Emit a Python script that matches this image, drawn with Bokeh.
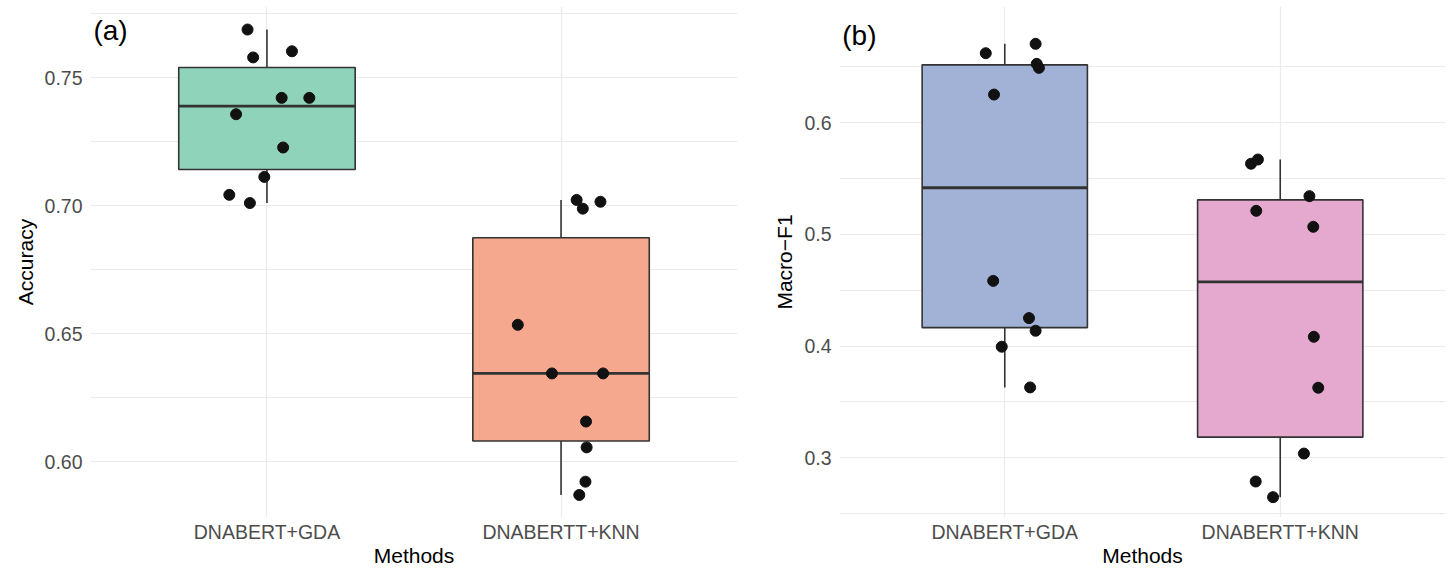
import numpy as np
from bokeh.plotting import figure
from bokeh.layouts import row
from bokeh.models import Range1d, FixedTicker
from bokeh.core.properties import value
from bokeh.embed import file_html
from bokeh.resources import INLINE

# ---------------- data ----------------
methods = ["DNABERT+GDA", "DNABERTT+KNN"]

acc_gda = [0.7689, 0.7580, 0.7604, 0.7422, 0.7422, 0.7358, 0.7228, 0.7113, 0.7043, 0.7011]
acc_gda_jitter = [-0.066, -0.047, 0.085, 0.050, 0.144, -0.105, 0.055, -0.009, -0.128, -0.058]
acc_knn = [0.7023, 0.6989, 0.7016, 0.6535, 0.6345, 0.6345, 0.6157, 0.6056, 0.5922, 0.5870]
acc_knn_jitter = [0.053, 0.074, 0.134, -0.147, -0.031, 0.143, 0.085, 0.087, 0.083, 0.062]

f1_gda = [0.6620, 0.6704, 0.6525, 0.6489, 0.6250, 0.4583, 0.4250, 0.4137, 0.3994, 0.3630]
f1_gda_jitter = [-0.069, 0.112, 0.116, 0.124, -0.039, -0.042, 0.088, 0.112, -0.011, 0.092]
f1_knn = [0.5631, 0.5669, 0.5341, 0.5210, 0.5067, 0.4083, 0.3627, 0.3038, 0.2788, 0.2648]
f1_knn_jitter = [-0.106, -0.081, 0.106, -0.087, 0.120, 0.122, 0.138, 0.086, -0.089, -0.026]

acc_ticks = [0.60, 0.65, 0.70, 0.75]
acc_tick_labels = ["0.60", "0.65", "0.70", "0.75"]
acc_minor = [0.625, 0.675, 0.725, 0.775]
f1_ticks = [0.3, 0.4, 0.5, 0.6]
f1_tick_labels = ["0.3", "0.4", "0.5", "0.6"]
f1_minor = [0.25, 0.35, 0.45, 0.55, 0.65]

# ---------------- style ----------------
FONT = "Liberation Sans"
GRID = "#ebebeb"
EDGE = "#333333"
BOX_W = 0.6
H = 569
FRAME_TOP, FRAME_BOTTOM = 6, 517


def box_stats(vals):
    v = np.asarray(vals, dtype=float)
    q1, med, q3 = np.percentile(v, [25, 50, 75])
    iqr = q3 - q1
    lo = v[v >= q1 - 1.5 * iqr].min()
    hi = v[v <= q3 + 1.5 * iqr].max()
    return q1, med, q3, lo, hi


def make_panel(groups, jitters, colors, ylabel, yrange, ticks, tick_labels, minor,
               tag, tag_dy, width, mbl, mbr):
    p = figure(width=width, height=H, output_backend="svg", toolbar_location=None,
               x_range=Range1d(0.4, 2.6), y_range=Range1d(*yrange),
               min_border_left=mbl, min_border_right=mbr,
               min_border_top=FRAME_TOP, min_border_bottom=H - FRAME_BOTTOM)
    p.outline_line_color = None
    p.background_fill_color = "white"
    p.border_fill_color = "white"

    p.xgrid.grid_line_color = GRID
    p.xgrid.grid_line_width = 1.2
    p.ygrid.grid_line_color = GRID
    p.ygrid.grid_line_width = 1.2
    p.ygrid.minor_grid_line_color = GRID
    p.ygrid.minor_grid_line_width = 1.0

    p.xaxis.ticker = FixedTicker(ticks=[1, 2])
    p.xaxis.major_label_overrides = {1: methods[0], 2: methods[1]}
    p.yaxis.ticker = FixedTicker(ticks=ticks, minor_ticks=minor)
    p.yaxis.major_label_overrides = {t: l for t, l in zip(ticks, tick_labels)}
    for ax in (p.xaxis[0], p.yaxis[0]):
        ax.axis_line_color = None
        ax.major_tick_line_color = None
        ax.minor_tick_line_color = None
        ax.major_tick_out = 0
        ax.major_tick_in = 0
        ax.minor_tick_out = 0
        ax.minor_tick_in = 0
        ax.major_label_text_font = FONT
        ax.major_label_text_font_size = "19.5px"
        ax.major_label_text_color = "#4d4d4d"
        ax.axis_label_text_font = FONT
        ax.axis_label_text_font_size = "21px"
        ax.axis_label_text_font_style = "normal"
        ax.axis_label_text_color = "black"
    p.xaxis.axis_label = "Methods"
    p.xaxis.major_label_standoff = 3
    p.xaxis.axis_label_standoff = -2
    p.yaxis.axis_label = ylabel
    p.yaxis.major_label_standoff = 8
    p.yaxis.axis_label_standoff = 5

    for i, (vals, jit, col) in enumerate(zip(groups, jitters, colors)):
        c = i + 1
        q1, med, q3, lo, hi = box_stats(vals)
        p.segment(x0=[c, c], y0=[q3, q1], x1=[c, c], y1=[hi, lo],
                  line_color=EDGE, line_width=1.6)
        p.quad(left=[c - BOX_W / 2], right=[c + BOX_W / 2], bottom=[q1], top=[q3],
               fill_color=col, fill_alpha=1.0, line_color=EDGE, line_width=1.6)
        p.segment(x0=[c - BOX_W / 2], y0=[med], x1=[c + BOX_W / 2], y1=[med],
                  line_color=EDGE, line_width=2.8)
        xs = [c + j for j in jit]
        p.scatter(x=xs, y=vals, size=11, fill_color="#111111", line_color="#111111")

    # panel tag, placed at the top-left corner of the plotting area
    y0, y1 = yrange
    span = (y1 - y0) / (FRAME_BOTTOM - FRAME_TOP)
    p.text(x=[0.41], y=[y1 - tag_dy * span], text=[tag],
           text_font=value(FONT), text_font_size="28px", text_color="black",
           text_baseline="top", text_align="left")
    return p


p1 = make_panel([acc_gda, acc_knn], [acc_gda_jitter, acc_knn_jitter],
                ["#8fd3bb", "#f5a88e"], "Accuracy", (0.5782, 0.7779),
                acc_ticks, acc_tick_labels, acc_minor, "(a)", 8,
                width=768, mbl=90, mbr=31)
p2 = make_panel([f1_gda, f1_knn], [f1_gda_jitter, f1_knn_jitter],
                ["#a2b2d6", "#e5a9cf"], "Macro\u2212F1", (0.2466, 0.7038),
                f1_ticks, f1_tick_labels, f1_minor, "(b)", 13,
                width=680, mbl=71, mbr=3)

layout = row(p1, p2)
open("out.html", "w").write(file_html(layout, INLINE))
